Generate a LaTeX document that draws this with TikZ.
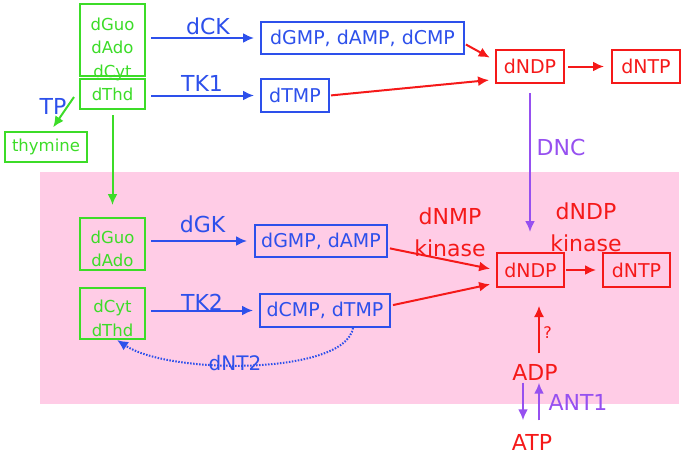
\documentclass[tikz,border=0pt]{standalone}
\usepackage{fontspec}
\setmainfont{DejaVu Sans}
\usepackage{tikz}
\usetikzlibrary{arrows.meta}

\definecolor{gcol}{RGB}{60,220,40}
\definecolor{bcol}{RGB}{45,80,235}
\definecolor{rcol}{RGB}{245,25,25}
\definecolor{pcol}{RGB}{150,80,240}
\definecolor{pinkbg}{RGB}{255,204,230}

\begin{document}
\begin{tikzpicture}[x=1pt,y=-1pt,
		box/.style 2 args={draw,line width=2pt,inner sep=0pt,minimum width=#1,minimum height=#2},
		gtxt/.style={font=\fontsize{16.5}{23.5}\selectfont,align=center,inner sep=0pt},
		btxt/.style={font=\fontsize{19}{22}\selectfont,inner sep=0pt},
		lbl/.style={font=\fontsize{22}{32}\selectfont,align=center,inner sep=0pt},
		arr/.style={line width=2pt,-{Latex[length=11pt,width=10pt]},shorten <=5pt,shorten >=6pt}]
		\useasboundingbox (0,0) rectangle (685,456);
		\fill[pinkbg] (40,172) rectangle (679,404);

		\node[box={65}{72},gcol] (guo1) at (112.5,40) {};
		\node[gtxt,gcol] (guo1t) at (112.5,49) {dGuo\\dAdo\\dCyt};
		\node[box={65}{30},gcol,gtxt] (thd1) at (112.5,94) {dThd};
		\node[box={82}{30},gcol,gtxt] (thy) at (46,147) {thymine};
		\node[box={203}{32},bcol,btxt] (nmp1) at (362.5,38) {dGMP, dAMP, dCMP};
		\node[box={68}{33},bcol,btxt] (tmp1) at (295,95.5) {dTMP};
		\node[box={68}{33},rcol,btxt] (ndp1) at (530,66.5) {dNDP};
		\node[box={68}{33},rcol,btxt] (ntp1) at (646,66.5) {dNTP};

		\node[box={65}{52},gcol] (guo2) at (112.5,244) {};
		\node[gtxt,gcol] (guo2t) at (112.5,249) {dGuo\\dAdo};
		\node[box={65}{51},gcol] (cyt2) at (112.5,313.5) {};
		\node[gtxt,gcol] (cyt2t) at (112.5,318.5) {dCyt\\dThd};
		\node[box={132}{32},bcol,btxt] (nmp2) at (321,241) {dGMP, dAMP};
		\node[box={130}{33},bcol,btxt] (cmp2) at (325,310.5) {dCMP, dTMP};
		\node[box={67}{34},rcol,btxt] (ndp2) at (530.5,270) {dNDP};
		\node[box={67}{34},rcol,btxt] (ntp2) at (636.5,270) {dNTP};
		\node[lbl,rcol,font=\fontsize{22}{24}\selectfont] (adp) at (535,372.5) {ADP};
		\node[lbl,rcol,font=\fontsize{22}{24}\selectfont] (atp) at (532,442.5) {ATP};

		\node[lbl,bcol] (ck) at (208,26) {dCK};
		\node[lbl,bcol] (tk1) at (202,83) {TK1};
		\node[lbl,bcol] (tp) at (53,106) {TP};
		\node[lbl,pcol] (dnc) at (561,147) {DNC};
		\node[lbl,bcol] (gk) at (202.5,224.5) {dGK};
		\node[lbl,bcol] (tk2) at (202,302.5) {TK2};
		\node[lbl,rcol] (nmpk) at (450,232) {dNMP\\kinase};
		\node[lbl,rcol] (ndpk) at (586,227.5) {dNDP\\kinase};
		\node[lbl,rcol,font=\fontsize{16}{18}\selectfont] (qm) at (547.5,333) {?};
		\node[lbl,pcol] (ant) at (578,402) {ANT1};
		\node[lbl,bcol,font=\fontsize{20}{22}\selectfont] (nt2) at (235,363) {dNT2};

		\draw[arr,bcol] (guo1.east |- nmp1.west) -- (nmp1.west);
		\draw[arr,bcol] (thd1.east |- tmp1.west) -- (tmp1.west);
		\draw[arr,gcol,shorten <=0pt,shorten >=2pt] ([xshift=-5pt,yshift=-3pt]thd1.west) -- ([xshift=6pt,yshift=2pt]thy.north);
		\draw[arr,gcol,shorten >=12pt] (thd1.south) -- (guo2.north);
		\draw[arr,rcol,shorten <=1pt] ([yshift=-6pt]nmp1.east) -- ([yshift=6pt]ndp1.west);
		\draw[arr,rcol,shorten <=1pt] (tmp1.east) -- ([yshift=-13pt]ndp1.west);
		\draw[arr,rcol,shorten <=3pt,shorten >=7pt] (ndp1) -- (ntp1);
		\draw[arr,pcol,shorten <=9pt,shorten >=20pt] (ndp1.south) -- (ndp1.south |- ndp2.north);

		\draw[arr,bcol,shorten >=7pt] (guo2.east |- nmp2.west) -- (nmp2.west);
		\draw[arr,bcol] (cyt2.east |- cmp2.west) -- (cmp2.west);
		\draw[arr,rcol,shorten <=2pt] ([yshift=-7pt]nmp2.east) -- (ndp2.west);
		\draw[arr,rcol,shorten <=2pt] ([yshift=5pt]cmp2.east) -- ([yshift=-13pt]ndp2.west);
		\draw[arr,rcol,shorten <=1pt] (ndp2) -- (ntp2);
		\draw[arr,rcol,line width=1.3pt,shorten <=0pt,shorten >=18pt] ([xshift=4pt,yshift=11pt]adp.north) -- ([xshift=4pt]adp.north |- ndp2.south);
		\draw[arr,pcol,shorten <=2pt,shorten >=14pt] ([xshift=-12pt]adp.south) -- ([xshift=-12pt]adp.south |- atp.north);
		\draw[arr,pcol,shorten <=14pt,shorten >=2pt] ([xshift=4pt]adp.south |- atp.north) -- ([xshift=4pt]adp.south);
		\draw[arr,bcol,dash pattern=on 1.5pt off 1.5pt,shorten <=0pt,shorten >=0pt] ([xshift=28pt]cmp2.south) .. controls (345,375) and (170,375) .. ([xshift=4.5pt]cyt2.south);
	\end{tikzpicture}
\end{document}
